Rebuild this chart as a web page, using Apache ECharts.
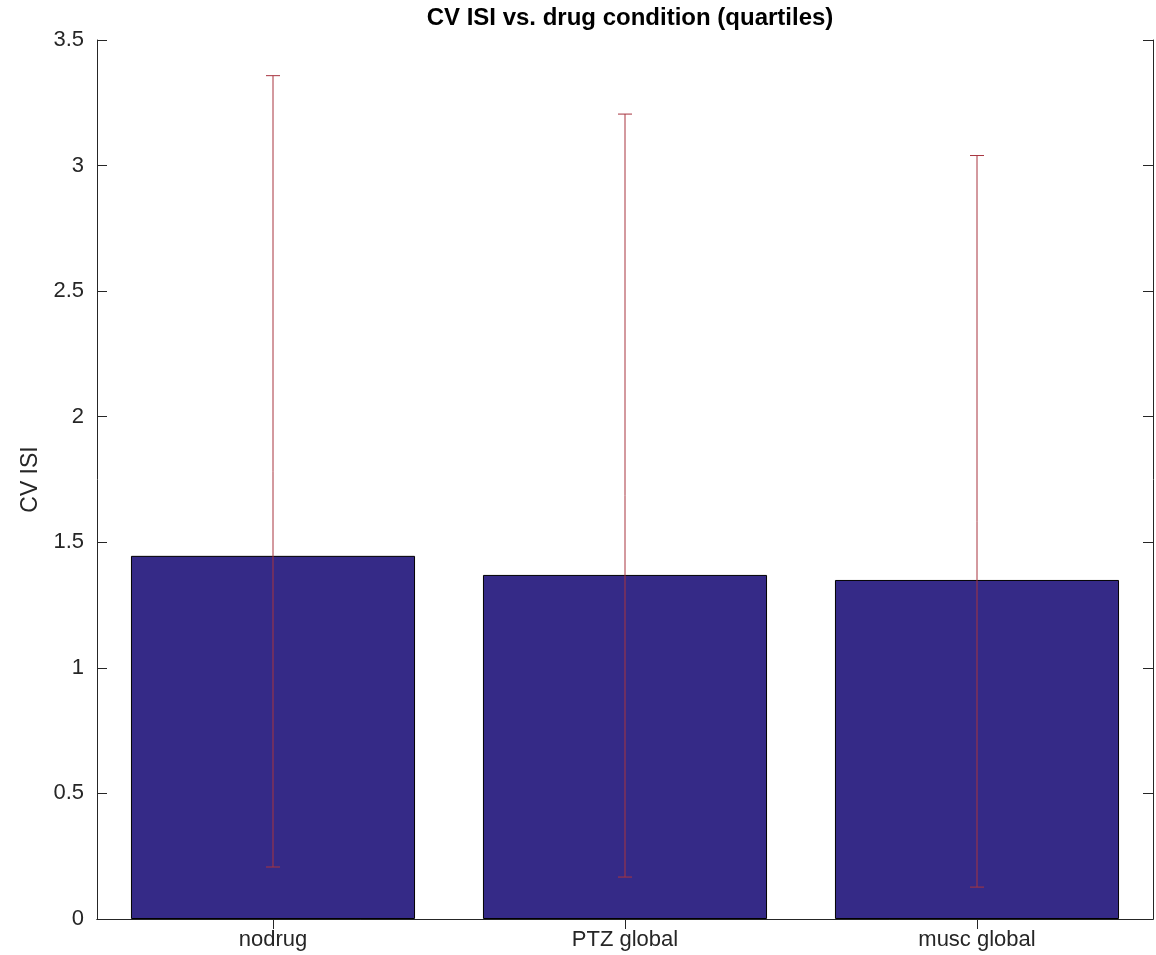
<!DOCTYPE html>
<html>
<head>
<meta charset="utf-8">
<script src="https://cdn.jsdelivr.net/npm/echarts@6/dist/echarts.min.js"></script>
<style>html,body{margin:0;padding:0;background:#fff}#c{width:1156px;height:955px}</style>
</head>
<body>
<div id="c"></div>
<script>
const categories = ['nodrug', 'PTZ global', 'musc global'];
const barValues = [1.446, 1.37, 1.35];
const errLow = [0.207, 0.167, 0.127];
const errHigh = [3.358, 3.205, 3.04];
const yTicks = [0, 0.5, 1, 1.5, 2, 2.5, 3, 3.5];

const chart = echarts.init(document.getElementById('c'));
const font = 'Liberation Sans, Arial, Helvetica, sans-serif';
const errData = categories.map((c, i) => [i, errLow[i], errHigh[i]]);
const axisCol = '#262626';

chart.setOption({
  animation: false,
  backgroundColor: '#fff',
  title: {
    text: 'CV ISI vs. drug condition (quartiles)',
    left: 625, top: 1, textAlign: 'center',
    textStyle: { fontFamily: font, fontSize: 24, fontWeight: 'bold', color: '#000' }
  },
  grid: { left: 97, right: 3, top: 40, bottom: 36, containLabel: false },
  xAxis: [{
    type: 'category', data: categories, position: 'bottom',
    axisLine: { lineStyle: { color: axisCol, width: 1 } },
    axisTick: { show: true, inside: true, alignWithLabel: true, length: 10, lineStyle: { color: axisCol } },
    axisLabel: { fontFamily: font, fontSize: 22, color: axisCol, margin: 10 }
  }, {
    type: 'category', data: categories, position: 'top',
    axisLine: { show: true, lineStyle: { color: axisCol, width: 1 } },
    axisTick: { show: true, inside: true, alignWithLabel: true, length: 10, lineStyle: { color: axisCol } },
    axisLabel: { show: false }
  }],
  yAxis: [{
    type: 'value', min: 0, max: 3.5, interval: 0.5,
    name: 'CV ISI', nameLocation: 'middle', nameGap: 50, nameRotate: 90,
    nameTextStyle: { fontFamily: font, fontSize: 23, color: axisCol },
    axisLine: { show: true, lineStyle: { color: axisCol, width: 1 } },
    axisTick: { show: true, inside: true, length: 10, lineStyle: { color: axisCol } },
    axisLabel: { fontFamily: font, fontSize: 22, color: axisCol, margin: 13,
      formatter: v => (yTicks.indexOf(v) >= 0 ? String(v) : '') },
    splitLine: { show: false }
  }, {
    type: 'value', min: 0, max: 3.5, interval: 0.5, position: 'right',
    axisLine: { show: true, lineStyle: { color: axisCol, width: 1 } },
    axisTick: { show: true, inside: true, length: 10, lineStyle: { color: axisCol } },
    axisLabel: { show: false },
    splitLine: { show: false }
  }],
  series: [{
    type: 'bar', data: barValues, barWidth: '80.7%',
    itemStyle: { color: '#352a87', borderColor: '#000', borderWidth: 1 },
    z: 2
  }, {
    type: 'custom', data: errData, z: 5,
    renderItem: function (params, api) {
      const x = api.value(0);
      const lo = api.coord([x, api.value(1)]);
      const hi = api.coord([x, api.value(2)]);
      const hw = 7;
      const st = { stroke: '#a8343f', lineWidth: 1 };
      return {
        type: 'group',
        children: [
          { type: 'line', shape: { x1: lo[0], y1: lo[1], x2: hi[0], y2: hi[1] }, style: st },
          { type: 'line', shape: { x1: lo[0] - hw, y1: lo[1], x2: lo[0] + hw, y2: lo[1] }, style: st },
          { type: 'line', shape: { x1: hi[0] - hw, y1: hi[1], x2: hi[0] + hw, y2: hi[1] }, style: st }
        ]
      };
    }
  }]
});
</script>
</body>
</html>
